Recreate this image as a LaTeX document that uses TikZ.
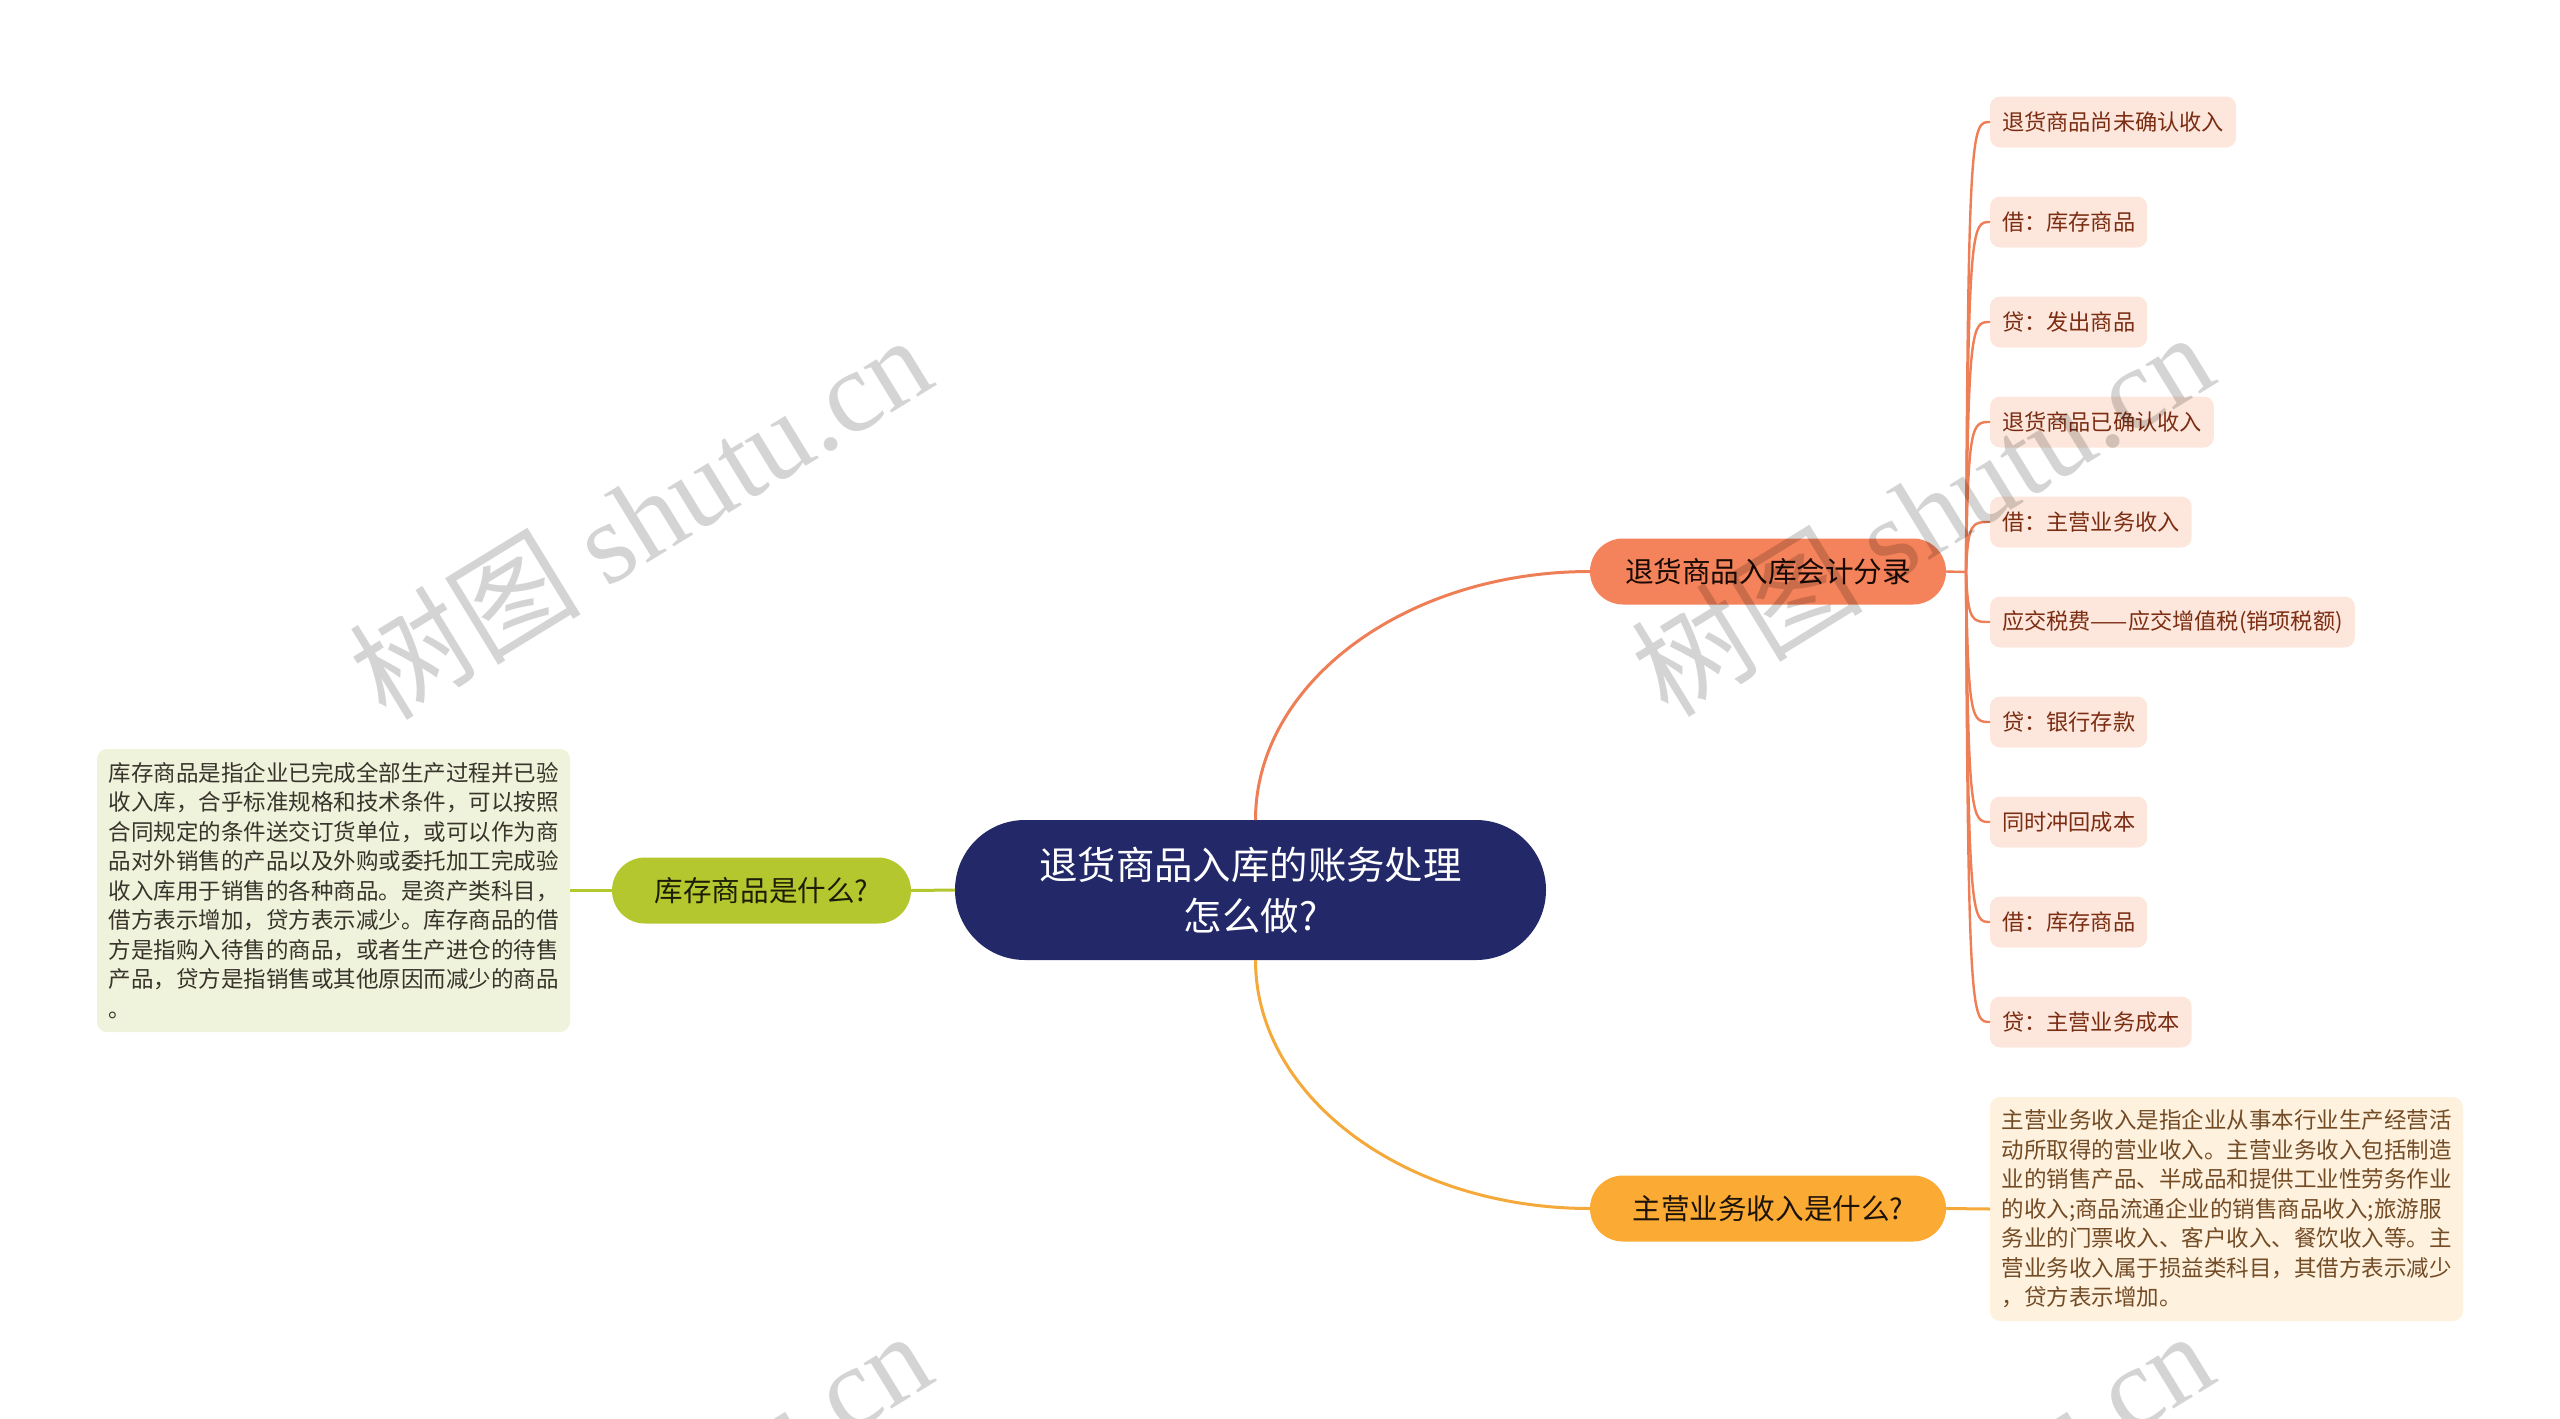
\documentclass[tikz,border=0pt]{standalone}
\usepackage{fontspec}
\setmainfont{Noto Sans CJK SC}
\newfontfamily\wmlatin{Liberation Serif}
\definecolor{navy}{HTML}{222868}
\definecolor{flfill}{HTML}{F4825A}
\definecolor{flline}{HTML}{EE7E55}
\definecolor{kcfill}{HTML}{B5C72F}
\definecolor{kcnotefill}{HTML}{EFF3DB}
\definecolor{zyfill}{HTML}{FBAB34}
\definecolor{zyline}{HTML}{F4A93A}
\definecolor{zynotefill}{HTML}{FEF1DE}
\definecolor{leaffill}{HTML}{FDE6DC}
\definecolor{leaftext}{HTML}{7B2D12}

\begin{document}
\begin{tikzpicture}[x=0.5pt,y=-0.5pt,
 every node/.style={inner sep=0pt,outer sep=0pt},
 centre/.style={fill=navy,text=white,rounded corners=35pt,minimum width=295.5pt,minimum height=70pt,align=center,font=\fontsize{19.2pt}{25.5pt}\selectfont},
 topic/.style={rounded corners=16.5pt,minimum height=33pt,font=\fontsize{14.3pt}{17pt}\selectfont},
 leaf/.style={fill=leaffill,text=leaftext,rounded corners=5pt,minimum height=25.5pt,inner xsep=6pt,anchor=west,font=\fontsize{11.1pt}{13pt}\selectfont},
 note/.style={rounded corners=5pt,minimum width=236.5pt,align=left,font=\fontsize{11.25pt}{14.75pt}\selectfont},
 wire/.style={line width=1.5pt},
 twig/.style={line width=1.2pt,flline},
 wmark/.style={text=black,text opacity=0.17,rotate=31.5,font=\fontsize{58pt}{64pt}\selectfont}]
\useasboundingbox (0,0) rectangle (2560,1419);
\node[centre] (root) at (1250.5,890) {退货商品入库的账务处理\\怎么做?};
\node[topic,fill=kcfill,text=black!85!kcfill,minimum width=149.5pt] (kc) at (761.5,890.5) {库存商品是什么?};
\node[note,fill=kcnotefill,text=black!80!olive,minimum height=141.5pt] (kcnote) at (333.5,890.5) {库存商品是指企业已完成全部生产过程并已验\\收入库，合乎标准规格和技术条件，可以按照\\合同规定的条件送交订货单位，或可以作为商\\品对外销售的产品以及外购或委托加工完成验\\收入库用于销售的各种商品。是资产类科目，\\借方表示增加，贷方表示减少。库存商品的借\\方是指购入待售的商品，或者生产进仓的待售\\产品，贷方是指销售或其他原因而减少的商品\\。};
\node[topic,fill=flfill,text=black!80!leaftext,minimum width=178pt] (fl) at (1768,571.5) {退货商品入库会计分录};
\node[topic,fill=zyfill,text=black!85!brown,minimum width=178pt] (zy) at (1768,1208.5) {主营业务收入是什么?};
\node[note,fill=zynotefill,text=black!40!brown,minimum height=112pt,anchor=west] (zynote) at (1990,1209) {主营业务收入是指企业从事本行业生产经营活\\动所取得的营业收入。主营业务收入包括制造\\业的销售产品、半成品和提供工业性劳务作业\\的收入;商品流通企业的销售商品收入;旅游服\\务业的门票收入、客户收入、餐饮收入等。主\\营业务收入属于损益类科目，其借方表示减少\\，贷方表示增加。};
\draw[wire,flline] ([xshift=2.5pt]root.north) .. controls +(0,-137) and +(-185,0) .. (fl.west);
\draw[wire,zyline] ([xshift=2.5pt]root.south) .. controls +(0,137) and +(-185,0) .. (zy.west);
\draw[wire,kcfill] (root.west) -- (kc.east);
\draw[wire,kcfill] (kc.west) -- (kcnote.east);
\draw[wire,zyline] (zy.east) -- (zynote.west);
\coordinate (hub) at (1966,572);
\draw[twig] (fl.east) -- (hub);
\foreach \txt [count=\i] in {退货商品尚未确认收入,借：库存商品,贷：发出商品,退货商品已确认收入,借：主营业务收入,应交税费——应交增值税(销项税额),贷：银行存款,同时冲回成本,借：库存商品,贷：主营业务成本}{
 \node[leaf] (l\i) at (1990,22+100*\i) {\txt};
 \draw[twig] (hub) .. controls (1968,22+100*\i) and (1972,22+100*\i) .. (l\i.west);
}
\begin{scope}
\clip (0,0) rectangle (2560,1419);
\foreach \wx/\wy [count=\k] in {640/516,1922/513,640/1512,1922/1512}
 \node[wmark] (wm\k) at (\wx,\wy) {树图 {\wmlatin shutu.cn}};
\end{scope}
\end{tikzpicture}
\end{document}
